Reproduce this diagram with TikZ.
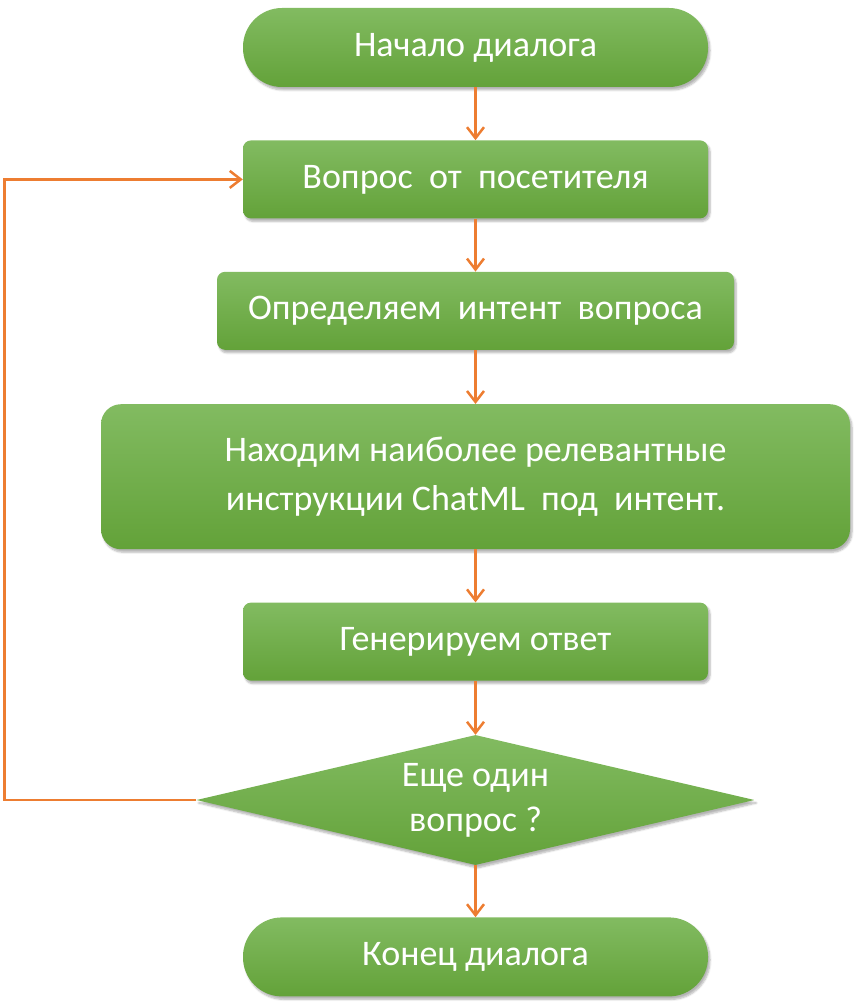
\documentclass[tikz,border=0pt]{standalone}
\usepackage{fontspec}
\setmainfont{Carlito}
\usetikzlibrary{shapes.geometric, arrows.meta, positioning, shadows.blur}
\definecolor{GreenTop}{RGB}{130, 187, 97}
\definecolor{GreenBottom}{RGB}{99, 162, 57}
\definecolor{LinkOrange}{RGB}{237, 125, 49}
\tikzset{
  base/.style={top color=GreenTop, bottom color=GreenBottom, draw=none,
    text=white, text centered, align=center, inner sep=0pt,
    font=\fontsize{36}{45}\selectfont,
    blur shadow={shadow xshift=2pt, shadow yshift=-3pt,
      shadow blur steps=6, shadow opacity=30}},
  term/.style={base, rectangle, rounded corners=39pt, minimum width=465pt,
    minimum height=79pt},
  proc/.style={base, rectangle, rounded corners=8pt, minimum width=465pt,
    minimum height=78pt},
  bigproc/.style={base, rectangle, rounded corners=20pt, minimum width=749pt,
    minimum height=145pt, font=\fontsize{36}{49}\selectfont},
  dec/.style={base, diamond, aspect=4.3, minimum width=558pt,
    minimum height=130pt},
  arr/.style={-{Straight Barb[length=11pt, width=17pt]}, line width=2.5pt,
    color=LinkOrange},
}
\begin{document}
\begin{tikzpicture}[x=1pt, y=1pt, node distance=53pt]
  \useasboundingbox (0,0) rectangle (862,-1008);
  \node[term] (start) at (475.5,-47.5) {Начало диалога};
  \node[proc, below=53pt of start] (ask) {Вопрос\ \ от\ \ посетителя};
  \node[proc, below=53pt of ask, minimum width=517pt] (intent)
    {Определяем\ \ интент\ \ вопроса};
  \node[bigproc, below=54pt of intent] (find)
    {Находим наиболее релевантные\\инструкции ChatML\ \ под\ \ интент.};
  \node[proc, below=53pt of find] (gen) {Генерируем ответ};
  \node[dec, below=54pt of gen] (more) {Еще один\\вопрос ?};
  \node[term, below=52pt of more] (stop) {Конец диалога};
  \draw[arr] (start)--(ask); \draw[arr] (ask)--(intent);
  \draw[arr] (intent)--(find); \draw[arr] (find)--(gen);
  \draw[arr] (gen)--(more); \draw[arr] (more)--(stop);
  \draw[arr] (more.west)--++(-192pt,0) |- (ask.west);
\end{tikzpicture}
\end{document}
